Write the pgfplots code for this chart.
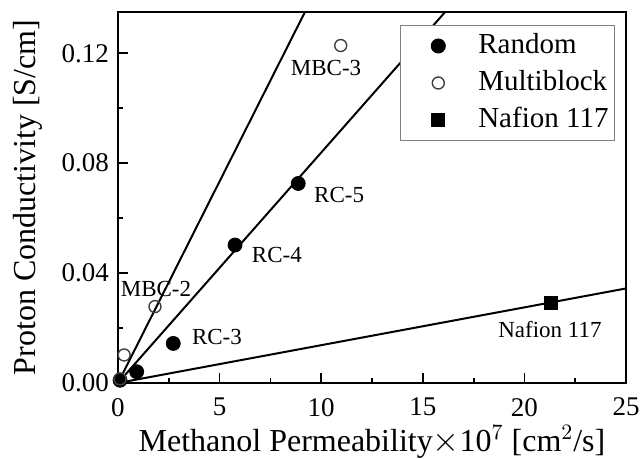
\documentclass[border=0pt]{standalone}
\usepackage{fontspec}
\setmainfont{Liberation Serif}
\usepackage{pgfplots}
\pgfplotsset{compat=1.18}
\begin{document}
\begin{tikzpicture}
\begin{axis}[
  scale only axis,
  width=254pt, height=185.5pt,
  xmin=0, xmax=25, ymin=0, ymax=0.135,
  xtick={0,5,10,15,20,25},
  minor xtick={2.5,7.5,12.5,17.5,22.5},
  ytick={0,0.04,0.08,0.12},
  minor ytick={0.02,0.06,0.10},
  xticklabel={\pgfmathprintnumber[assume math mode=true]{\tick}},
  yticklabel={\pgfmathprintnumber[assume math mode=true,fixed,fixed zerofill,precision=2]{\tick}},
  tick align=inside,
  xtick pos=left, ytick pos=left,
  major tick length=5pt, minor tick length=2.5pt,
  tick style={line width=0.9pt, black},
  axis line style={line width=1.1pt},
  tick label style={font=\fontsize{13.5}{15}\selectfont},
  xticklabel style={yshift=-4pt},
  yticklabel style={xshift=-1pt},
  xlabel={Methanol Permeability$\times$10$^{7}$ [cm$^{2}$/s]},
  ylabel={Proton Conductivity [S/cm]},
  label style={font=\fontsize{16}{18}\selectfont},
  xlabel style={at={(axis description cs:0.5,0)}, anchor=base, yshift=-34.5pt, inner sep=0pt},
  ylabel style={at={(axis description cs:-0.177,0.5)}, anchor=center, inner sep=0pt},
  clip=true,
  legend image code/.code={\path[draw=none,fill=none] (-17pt,0pt) -- (19pt,0pt); \draw[#1] plot coordinates {(0pt,0pt)};},
  legend style={at={(1,1)}, anchor=north east, xshift=-5.5pt, yshift=-6.5pt,
    draw=gray, line width=0.5pt, inner xsep=2pt, inner ysep=3pt,
    font=\fontsize{14.5}{16}\selectfont, row sep=4pt,
    nodes={inner xsep=1pt, inner ysep=0pt, text height=11pt, text depth=3.5pt}},
  legend cell align=left,
]
% trend lines
\addplot[black, line width=1pt, forget plot] coordinates {(0,0) (9.2,0.135)};
\addplot[black, line width=1pt, forget plot] coordinates {(0,0) (16.1,0.135)};
\addplot[black, line width=1pt, forget plot] coordinates {(0,0) (25,0.0344)};
% data
\addplot[only marks, mark=*, mark size=3.5pt, black] coordinates {
 (0.1,0.001) (0.92,0.0041) (2.72,0.0144) (5.76,0.0502) (8.87,0.0726)};
\addlegendentry{Random}
\addplot[only marks, mark=o, mark size=3pt, black!75, mark options={line width=0.7pt}] coordinates {
 (0.1,0.0015) (0.3,0.0102) (1.82,0.0278) (10.96,0.1228)};
\addlegendentry{Multiblock}
\addplot[only marks, mark=square*, mark size=3.2pt, black] coordinates {(21.3,0.0292)};
\addlegendentry{Nafion 117}
% labels
\node[font=\fontsize{11.5}{13}\selectfont] at (axis cs:10.24,0.1145) {MBC-3};
\node[font=\fontsize{11.5}{13}\selectfont] at (axis cs:10.88,0.0684) {RC-5};
\node[font=\fontsize{11.5}{13}\selectfont] at (axis cs:7.82,0.0465) {RC-4};
\node[font=\fontsize{11.5}{13}\selectfont] at (axis cs:4.87,0.0167) {RC-3};
\node[font=\fontsize{11.5}{13}\selectfont] at (axis cs:1.87,0.0342) {MBC-2};
\node[font=\fontsize{11.5}{13}\selectfont] at (axis cs:21.26,0.0196) {Nafion 117};
\coordinate (NW) at (rel axis cs:0,1);
\coordinate (SE) at (rel axis cs:1,0);
\end{axis}
\pgfresetboundingbox
\path ([xshift=-59pt,yshift=6pt]NW) rectangle ([xshift=8pt,yshift=-38pt]SE);
\end{tikzpicture}
\end{document}
